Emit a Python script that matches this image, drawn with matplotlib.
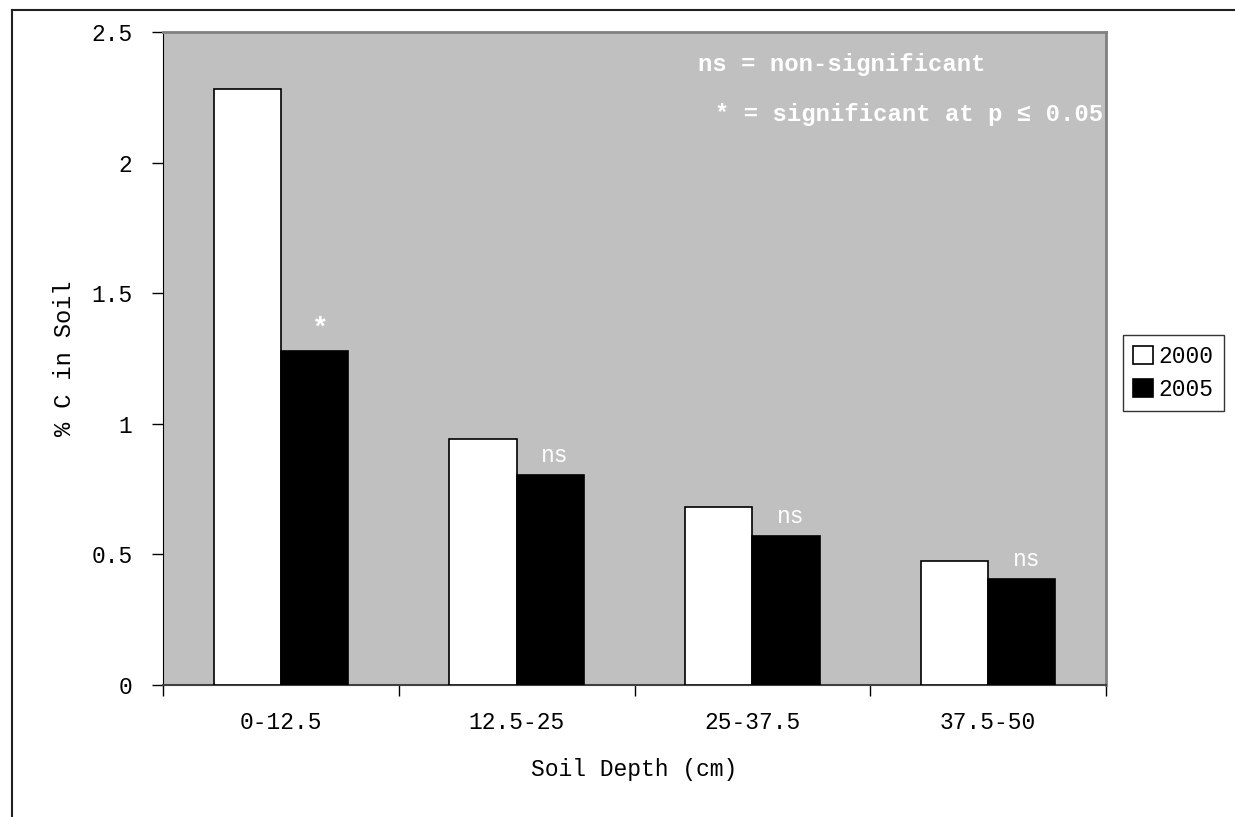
import matplotlib
matplotlib.use("Agg")
import matplotlib.pyplot as plt
import numpy as np
from matplotlib.patches import Patch

categories = ["0-12.5", "12.5-25", "25-37.5", "37.5-50"]
years = ["2000", "2005"]
values_2000 = [2.28, 0.94, 0.68, 0.475]
values_2005 = [1.28, 0.805, 0.57, 0.405]
sig_labels = ["*", "ns", "ns", "ns"]
y_ticks = [0, 0.5, 1, 1.5, 2, 2.5]
y_tick_labels = ["0", "0.5", "1", "1.5", "2", "2.5"]

FONT = "Liberation Mono"
W, H = 1235, 817
fig = plt.figure(figsize=(W / 100, H / 100), dpi=100)
ax = fig.add_axes([163 / W, 1 - 685 / H, (1106 - 163) / W, (685 - 32) / H])
ax.set_facecolor("#C0C0C0")

x = np.arange(len(categories))
bw = 0.285
ax.bar(x - bw / 2, values_2000, bw, color="white", edgecolor="black", linewidth=1.2, zorder=3)
ax.bar(x + bw / 2, values_2005, bw, color="black", edgecolor="black", linewidth=1.2, zorder=3)

for xi, v, lab in zip(x, values_2005, sig_labels):
    if lab == "*":
        ax.text(xi + bw / 2 + 0.02, v + 0.035, lab, color="white", fontsize=20,
                fontfamily=FONT, fontweight="bold", ha="center", va="bottom")
    else:
        ax.text(xi + bw / 2 + 0.02, v + 0.03, lab, color="white", fontsize=16.5,
                fontfamily=FONT, ha="center", va="bottom")

ax.set_xlim(-0.5, len(categories) - 0.5)
ax.set_ylim(0, 2.5)
ax.set_yticks(y_ticks)
ax.set_yticklabels(y_tick_labels, fontfamily=FONT, fontsize=16.5)
ax.set_xticks(np.arange(len(categories) + 1) - 0.5)
ax.set_xticklabels([])
ax.set_xticks(x, minor=True)
ax.set_xticklabels(categories, minor=True, fontfamily=FONT, fontsize=16.5)
ax.tick_params(axis="x", which="minor", length=0, pad=19)
ax.tick_params(axis="x", which="major", length=8, width=1, direction="out", color="black")
ax.tick_params(axis="y", length=8, width=1, direction="out", pad=14)

for s in ["top", "right"]:
    ax.spines[s].set_color("#808080")
    ax.spines[s].set_linewidth(2)
ax.spines["left"].set_color("black")
ax.spines["bottom"].set_color("#404040")
ax.spines["bottom"].set_linewidth(1.5)

ax.set_ylabel("% C in Soil", fontfamily=FONT, fontsize=17, labelpad=11)
ax.set_xlabel("Soil Depth (cm)", fontfamily=FONT, fontsize=16.6, labelpad=17)

ax.text(698 / W, 1 - 65 / H, "ns = non-significant", transform=fig.transFigure,
        color="white", fontfamily=FONT, fontweight="bold", fontsize=17.2, ha="left", va="center")
ax.text(1103 / W, 1 - 115 / H, "* = significant at p \u2264 0.05", transform=fig.transFigure,
        color="white", fontfamily=FONT, fontweight="bold", fontsize=17.2, ha="right", va="center")

handles = [Patch(facecolor="white", edgecolor="black", linewidth=1.2),
           Patch(facecolor="black", edgecolor="black", linewidth=1.2)]
leg = fig.legend(handles, years, loc="center left", bbox_to_anchor=(1123 / W, 1 - 373 / H),
                 prop={"family": FONT, "size": 16.5}, frameon=True, fancybox=False,
                 handlelength=0.85, handleheight=0.85, handletextpad=0.25, borderpad=0.45,
                 labelspacing=0.45, borderaxespad=0)
leg.get_frame().set_edgecolor("black")
leg.get_frame().set_linewidth(1)

# outer frame lines
fig.add_artist(plt.Line2D([12 / W, 1], [1 - 10 / H, 1 - 10 / H], transform=fig.transFigure, color="#202020", lw=1.5))
fig.add_artist(plt.Line2D([12 / W, 12 / W], [1 - 10 / H, 0], transform=fig.transFigure, color="#202020", lw=1.5))

fig.savefig("out.png", dpi=100)
